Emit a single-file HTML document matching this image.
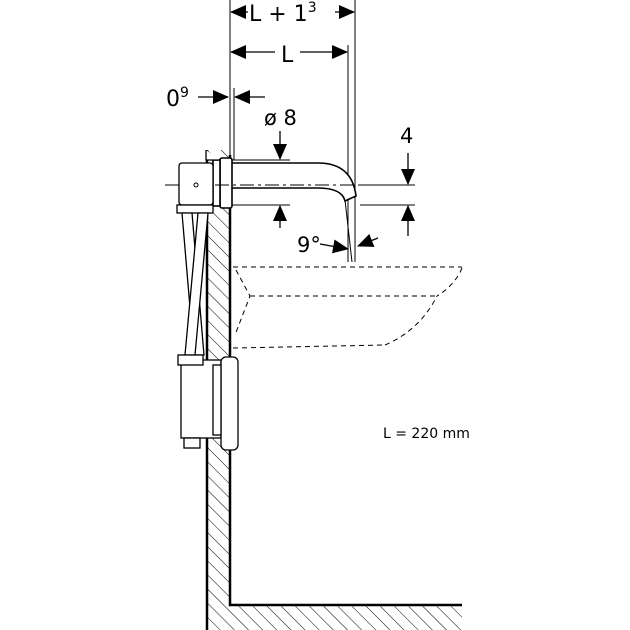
<!DOCTYPE html>
<html><head><style>
html,body{margin:0;padding:0;background:#fff;}
svg{display:block;}
text{font-family:"DejaVu Sans","Liberation Sans",sans-serif;fill:#000;}
</style></head><body>
<svg width="630" height="630" viewBox="0 0 630 630" xmlns="http://www.w3.org/2000/svg">
<defs>
<pattern id="h" patternUnits="userSpaceOnUse" width="10" height="10" patternTransform="rotate(-45)">
<line x1="0" y1="0" x2="0" y2="10" stroke="#000" stroke-width="1"/>
</pattern>
<marker id="a" markerWidth="16" markerHeight="14" refX="15" refY="7" orient="auto" markerUnits="userSpaceOnUse">
<path d="M0,0 L16,7 L0,14 z" fill="#000"/>
</marker>
</defs>
<!-- wall hatch -->
<rect x="207" y="150" width="22" height="480" fill="url(#h)"/>
<rect x="229" y="605" width="233" height="25" fill="url(#h)"/>
<path d="M207,150 L207,630" stroke="#000" stroke-width="2.5" fill="none"/>
<path d="M230,155 L230,605 L462,605" stroke="#000" stroke-width="2.5" fill="none"/>
<!-- extension lines -->
<g stroke="#000" stroke-width="1" fill="none">
<line x1="230" y1="0" x2="230" y2="155"/>
<line x1="355" y1="0" x2="355" y2="262"/>
<line x1="348" y1="45" x2="348" y2="262"/>
<line x1="234" y1="88" x2="234" y2="160"/>
<line x1="232" y1="160" x2="290" y2="160"/>
<line x1="232" y1="205" x2="290" y2="205"/>
<line x1="360" y1="185" x2="415" y2="185"/>
<line x1="360" y1="205" x2="415" y2="205"/>
<line x1="345" y1="200" x2="352" y2="262"/>
</g>
<!-- dimension arrows -->
<g stroke="#000" stroke-width="1.3" fill="none" marker-end="url(#a)">
<line x1="248" y1="12" x2="231" y2="12"/>
<line x1="335" y1="12" x2="354" y2="12"/>
<line x1="275" y1="52" x2="231" y2="52"/>
<line x1="300" y1="52" x2="347" y2="52"/>
<line x1="198" y1="97" x2="228" y2="97"/>
<line x1="265" y1="97" x2="235" y2="97"/>
<line x1="280" y1="131" x2="280" y2="159"/>
<line x1="280" y1="228" x2="280" y2="206"/>
<line x1="408" y1="153" x2="408" y2="184"/>
<line x1="408" y1="236" x2="408" y2="206"/>
<line x1="320" y1="244" x2="348" y2="249"/>
<line x1="378" y1="238" x2="358" y2="246"/>
</g>
<!-- labels -->
<text x="249" y="21" font-size="22">L + 1<tspan font-size="14" dy="-9">3</tspan></text>
<text x="281" y="62" font-size="22">L</text>
<text x="166" y="106" font-size="22">0<tspan font-size="14" dy="-9">9</tspan></text>
<text x="264" y="125" font-size="21">ø 8</text>
<text x="400" y="143" font-size="21">4</text>
<text x="297" y="252" font-size="21">9°</text>
<text x="383" y="438" font-size="14">L = 220 mm</text>
<!-- basin dashed -->
<g stroke="#000" stroke-width="1" fill="none" stroke-dasharray="5,4">
<line x1="233" y1="267" x2="462" y2="267"/>
<path d="M462,268 Q455,285 437,296"/>
<line x1="250" y1="296" x2="437" y2="296"/>
<path d="M236,270 L250,296 L235,335"/>
<line x1="233" y1="348" x2="385" y2="345"/>
<path d="M385,345 Q420,330 437,296"/>
</g>
<!-- spout -->
<g stroke="#000" stroke-width="1.6" fill="#fff">
<path d="M232,163 L318,163 Q352,163 356,196 L345,201 Q342,188 318,188 L232,188"/>
<rect x="220" y="158" width="12" height="50" rx="2"/>
<rect x="213" y="160" width="7" height="46"/>
</g>
<line x1="165" y1="185" x2="410" y2="185" stroke="#000" stroke-width="1" stroke-dasharray="14,4,3,4"/>
<!-- upper box -->
<g stroke="#000" stroke-width="1.3" fill="#fff">
<path d="M206,150 L206,160 L220,160"/>
<rect x="179" y="163" width="34" height="42" rx="3"/>
<rect x="177" y="205" width="36" height="8"/>
<!-- hoses -->
<path d="M182,213 L194,355 L204,355 L192,213 z"/>
<path d="M198,213 L185,355 L195,355 L208,213 z"/>
<!-- lower box -->
<rect x="181" y="360" width="40" height="78"/>
<rect x="178" y="355" width="25" height="10"/>
<rect x="221" y="357" width="17" height="93" rx="5"/>
<rect x="213" y="365" width="8" height="70"/>
<rect x="184" y="438" width="16" height="10"/>
</g>
<circle cx="196" cy="185" r="2" fill="none" stroke="#000"/>
</svg>
</body></html>
